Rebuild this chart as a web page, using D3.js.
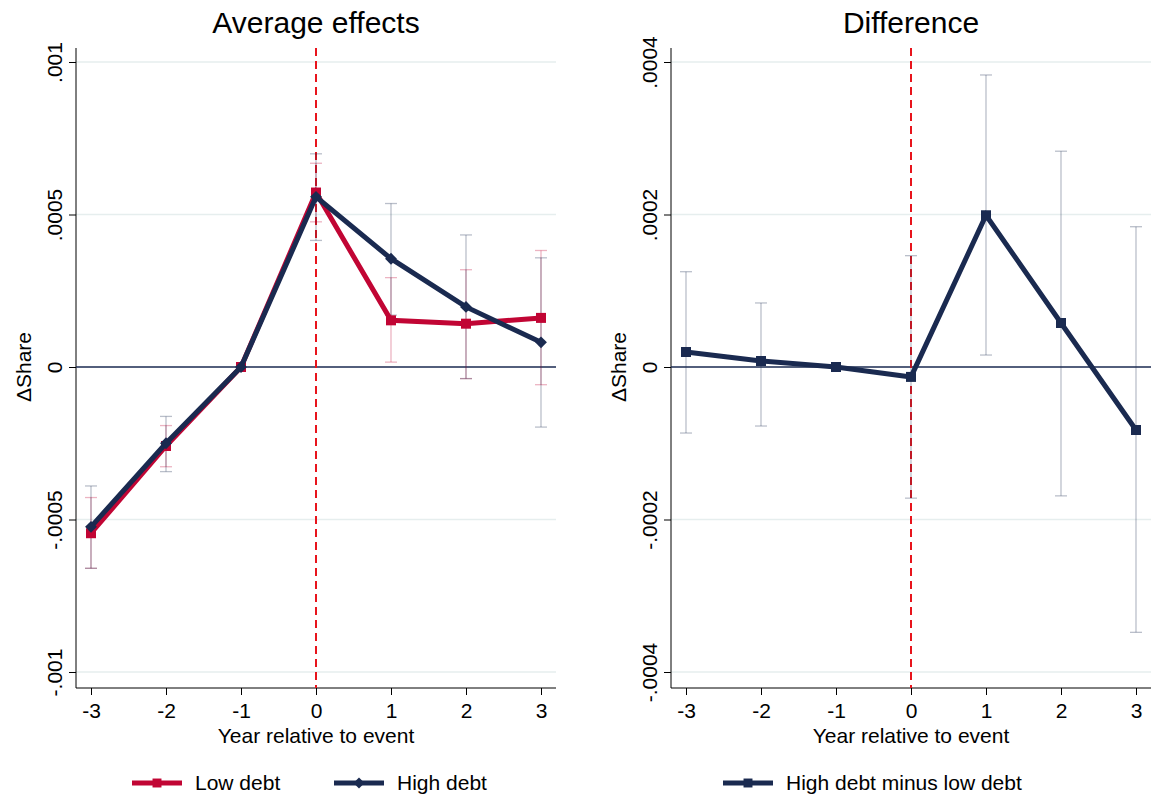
<!DOCTYPE html>
<html><head><meta charset="utf-8">
<script src="https://cdn.jsdelivr.net/npm/d3@7"></script>
<style>body{margin:0;background:#fff;font-family:"Liberation Sans",Arial,sans-serif}</style>
</head><body><svg id="c" width="1151" height="801"></svg>
<script>
const years = [-3, -2, -1, 0, 1, 2, 3];

const lowDebt   = [-0.000545, -0.000259, 0, 0.000572, 0.000153, 0.000142, 0.000161];
const lowLo     = [-0.00066, -0.000327, null, 0.000476, 0.000016, -0.000038, -0.000058];
const lowHi     = [-0.000428, -0.000192, null, 0.000668, 0.000293, 0.000319, 0.000382];

const highDebt  = [-0.000524, -0.00025, 0, 0.000558, 0.000355, 0.000197, 0.000081];
const highLo    = [-0.00066, -0.000343, null, 0.000415, 0.00017, -0.000038, -0.000197];
const highHi    = [-0.00039, -0.000162, null, 0.000699, 0.000536, 0.000433, 0.000358];

const diff      = [0.0000197, 0.0000079, 0, -0.000013, 0.000199, 0.0000577, -0.0000826];
const diffLo    = [-0.0000866, -0.0000774, null, -0.000172, 0.0000157, -0.000169, -0.000348];
const diffHi    = [0.000125, 0.000084, null, 0.000146, 0.000383, 0.000283, 0.000184];

const leftTicks  = [-0.001, -0.0005, 0, 0.0005, 0.001];
const leftLabels = ["-.001", "-.0005", "0", ".0005", ".001"];
const rightTicks  = [-0.0004, -0.0002, 0, 0.0002, 0.0004];
const rightLabels = ["-.0004", "-.0002", "0", ".0002", ".0004"];
const xLabels = ["-3", "-2", "-1", "0", "1", "2", "3"];

const RED = "#c10534", NAVY = "#1a2a50";
const svg = d3.select("#c");

function marker(shape, size) {
  return d3.symbol().type(d3.symbolSquare).size(size)();
}

function panel(o) {
  const g = svg.append("g");
  const x = d3.scaleLinear().domain([-3, 3]).range([o.x0, o.x0 + 450]);
  const y = d3.scaleLinear().domain(o.domain).range([672, 62]);
  const left = o.x0 - 15, right = o.x0 + 465, top = 48, bottom = 688;

  o.ticks.forEach(t => {
    if (t !== 0) g.append("line").attr("x1", left).attr("x2", right)
      .attr("y1", y(t)).attr("y2", y(t)).attr("stroke", "#e6eeee").attr("stroke-width", 1.5);
  });

  const ya = g.append("g").attr("transform", `translate(${left},0)`)
    .call(d3.axisLeft(y).tickValues(o.ticks).tickFormat((d, i) => o.labels[i]).tickSize(7));
  ya.select(".domain").attr("d", `M0,${top}V${bottom}`);
  ya.selectAll(".tick text").attr("x", null).attr("dy", "0.35em").attr("text-anchor", "middle")
    .style("font-size", "21px").style("font-family", "Liberation Sans, Arial")
    .attr("transform", "translate(-21,0) rotate(-90)");

  const xa = g.append("g").attr("transform", `translate(0,${bottom})`)
    .call(d3.axisBottom(x).tickValues(years).tickFormat((d, i) => xLabels[i]).tickSize(7));
  xa.select(".domain").attr("d", `M${left},0H${right}`);
  xa.selectAll("text").style("font-size", "21px").style("font-family", "Liberation Sans, Arial").attr("dy", "0.95em");
  [ya, xa].forEach(a => a.selectAll("line,path").attr("stroke", "#000"));

  g.append("text").attr("x", (left + right) / 2).attr("y", 743).attr("text-anchor", "middle")
    .style("font-size", "21px").text("Year relative to event");
  g.append("text").attr("transform", `translate(${left - 45},${y(0)}) rotate(-90)`).attr("text-anchor", "middle")
    .style("font-size", "21px").text("ΔShare");
  g.append("text").attr("x", (left + right) / 2).attr("y", 33).attr("text-anchor", "middle")
    .style("font-size", "30px").text(o.title);

  g.append("line").attr("x1", left).attr("x2", right).attr("y1", y(0)).attr("y2", y(0))
    .attr("stroke", NAVY).attr("stroke-width", 1.5);
  g.append("line").attr("x1", x(0)).attr("x2", x(0)).attr("y1", top).attr("y2", bottom)
    .attr("stroke", "#e8141c").attr("stroke-width", 2).attr("stroke-dasharray", "8,5");

  o.series.forEach(s => {
    years.forEach((yr, i) => {
      if (s.lo[i] == null) return;
      const cx = x(yr), eg = g.append("g").attr("stroke", s.color).attr("stroke-opacity", 0.3).attr("stroke-width", 1.3);
      eg.append("line").attr("x1", cx).attr("x2", cx).attr("y1", y(s.lo[i])).attr("y2", y(s.hi[i]));
      [s.lo[i], s.hi[i]].forEach(v => eg.append("line").attr("x1", cx - 6).attr("x2", cx + 6).attr("y1", y(v)).attr("y2", y(v)));
    });
  });

  o.series.forEach(s => {
    g.append("path").datum(s.v).attr("fill", "none").attr("stroke", s.color).attr("stroke-width", 5)
      .attr("d", d3.line().x((d, i) => x(years[i])).y(d => y(d)));
    const rot = s.shape === "d" ? " rotate(45)" : "";
    const sz = s.shape === "d" ? 70 : 100;
    g.selectAll(null).data(s.v).join("path").attr("d", marker(s.shape, sz))
      .attr("transform", (d, i) => `translate(${x(years[i])},${y(d)})${rot}`)
      .attr("fill", s.color);
  });

  o.series.forEach((s, i) => {
    const lx = o.legendX[i], ly = 783;
    const rot = s.shape === "d" ? " rotate(45)" : "";
    g.append("line").attr("x1", lx).attr("x2", lx + 50).attr("y1", ly).attr("y2", ly).attr("stroke", s.color).attr("stroke-width", 5);
    g.append("path").attr("d", marker(s.shape, s.shape === "d" ? 60 : 80))
      .attr("transform", `translate(${lx + 25},${ly})${rot}`).attr("fill", s.color);
    g.append("text").attr("x", lx + 63).attr("y", ly + 7).style("font-size", "21px").text(s.name);
  });
}

panel({
  x0: 91, domain: [-0.001, 0.001], ticks: leftTicks, labels: leftLabels, title: "Average effects",
  legendX: [132, 334],
  series: [
    {name: "Low debt", v: lowDebt, lo: lowLo, hi: lowHi, color: RED, shape: "s"},
    {name: "High debt", v: highDebt, lo: highLo, hi: highHi, color: NAVY, shape: "d"}
  ]
});
panel({
  x0: 686, domain: [-0.0004, 0.0004], ticks: rightTicks, labels: rightLabels, title: "Difference",
  legendX: [723],
  series: [
    {name: "High debt minus low debt", v: diff, lo: diffLo, hi: diffHi, color: NAVY, shape: "s"}
  ]
});
</script></body></html>
